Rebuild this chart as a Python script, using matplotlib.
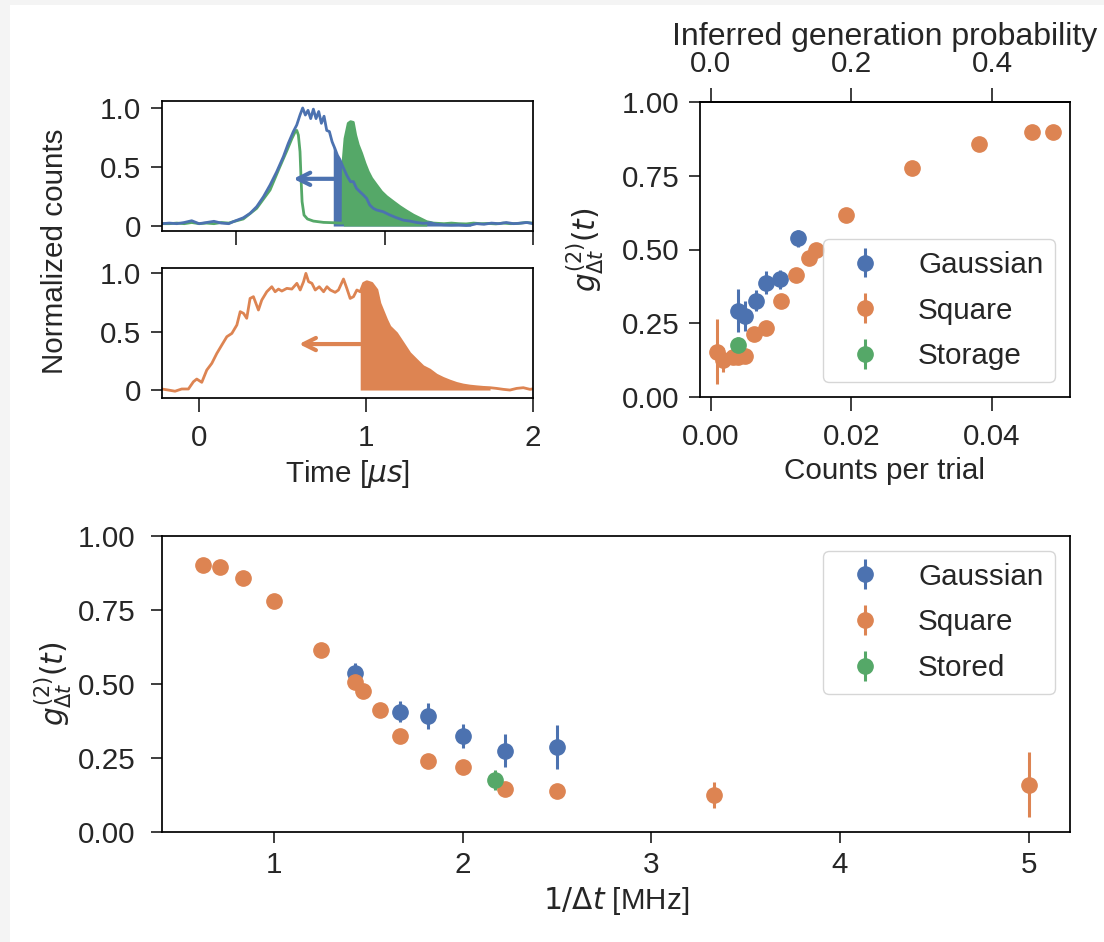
import numpy as np
import matplotlib.pyplot as plt
from matplotlib.patches import Rectangle

blue, orange, green = '#4C72B0', '#DD8452', '#55A868'

# --- pulse traces, top left ---
# upper panel: gaussian pulse (blue) and stored pulse (green)
t_gauss = [-0.5, -0.45, -0.4, -0.35, -0.3, -0.25, -0.2, -0.15, -0.1, -0.05, -0.02,
           0.048, 0.093, 0.138, 0.184, 0.228, 0.273, 0.318, 0.351, 0.385, 0.408,
           0.43, 0.448, 0.466, 0.484, 0.502, 0.52, 0.538, 0.556, 0.574, 0.592,
           0.61, 0.628, 0.646, 0.654, 0.664, 0.682, 0.7, 0.72, 0.745, 0.77, 0.79,
           0.81, 0.834, 0.857, 0.879, 0.9, 0.924, 0.946, 0.991, 1.036, 1.081,
           1.126, 1.171, 1.216, 1.261, 1.306, 1.35, 1.4, 1.45, 1.5, 1.55, 1.58,
           1.62, 1.67, 1.72, 1.77, 1.82, 1.87, 1.92, 1.96, 2.0]
n_gauss = [0.02, 0.025, 0.02, 0.03, 0.045, 0.02, 0.03, 0.04, 0.025, 0.02, 0.037,
           0.07, 0.107, 0.164, 0.249, 0.347, 0.46, 0.588, 0.7, 0.8, 0.856,
           0.94, 1.0, 0.94, 0.98, 0.91, 0.99, 0.91, 0.97, 0.87, 0.93,
           0.81, 0.8, 0.715, 0.69, 0.66, 0.6, 0.56, 0.5, 0.43, 0.376, 0.376,
           0.32, 0.29, 0.263, 0.234, 0.178, 0.15, 0.136, 0.121, 0.093, 0.07,
           0.05, 0.042, 0.03, 0.023, 0.028, 0.015, 0.01, 0.008, 0.01, 0.005, 0.008,
           0.02, 0.015, 0.025, 0.02, 0.03, 0.02, 0.025, 0.03, 0.02]
t_store = [-0.5, -0.45, -0.4, -0.35, -0.3, -0.25, -0.2, -0.15, -0.1, -0.05, -0.02,
           0.048, 0.138, 0.228, 0.29, 0.342, 0.375, 0.398, 0.408, 0.419, 0.43,
           0.437, 0.444, 0.457, 0.48, 0.52, 0.588, 0.655, 0.7, 0.72, 0.722,
           0.733, 0.755, 0.771, 0.789, 0.805, 0.823, 0.845, 0.868, 0.89, 0.913,
           0.946, 0.98, 1.014, 1.059, 1.104, 1.149, 1.194, 1.239, 1.284, 1.33,
           1.4, 1.45, 1.5, 1.55, 1.6, 1.65, 1.7, 1.75, 1.8, 1.85, 1.9, 1.95, 2.0]
n_store = [0.02, 0.02, 0.025, 0.02, 0.03, 0.02, 0.025, 0.02, 0.03, 0.025, 0.037,
           0.06, 0.15, 0.305, 0.49, 0.64, 0.74, 0.8, 0.81, 0.77, 0.63,
           0.4, 0.206, 0.093, 0.06, 0.042, 0.031, 0.028, 0.025, 0.025, 0.573,
           0.74, 0.87, 0.884, 0.878, 0.77, 0.686, 0.616, 0.53, 0.46, 0.404,
           0.347, 0.29, 0.249, 0.206, 0.164, 0.127, 0.093, 0.065, 0.037, 0.025,
           0.02, 0.025, 0.02, 0.018, 0.025, 0.02, 0.022, 0.018, 0.025, 0.02, 0.022, 0.03, 0.025]

# lower panel: square pulse (orange)
t_square = [-0.222, -0.182, -0.142, -0.102, -0.062, -0.032, -0.012, 0.018, 0.048,
            0.078, 0.108, 0.138, 0.168, 0.198, 0.228, 0.248, 0.268, 0.287, 0.307,
            0.327, 0.357, 0.377, 0.407, 0.437, 0.457, 0.477, 0.497, 0.527, 0.557,
            0.587, 0.607, 0.627, 0.641, 0.657, 0.677, 0.697, 0.721, 0.747, 0.767,
            0.787, 0.816, 0.836, 0.866, 0.886, 0.906, 0.926, 0.946, 0.966, 0.986,
            1.006, 1.036, 1.066, 1.084, 1.104, 1.124, 1.144, 1.184, 1.223, 1.263,
            1.303, 1.343, 1.383, 1.423, 1.463, 1.503, 1.543, 1.583, 1.623, 1.663,
            1.703, 1.743, 1.782, 1.822, 1.862, 1.902, 1.942, 1.982, 2.0]
n_square = [0.009, 0.0, -0.01, 0.009, 0.009, 0.071, 0.094, 0.066, 0.171,
            0.228, 0.313, 0.385, 0.456, 0.484, 0.556, 0.67, 0.655, 0.613, 0.783,
            0.798, 0.684, 0.769, 0.84, 0.883, 0.84, 0.863, 0.846, 0.869, 0.863,
            0.912, 0.855, 0.926, 0.997, 0.926, 0.912, 0.855, 0.883, 0.84, 0.883,
            0.855, 0.835, 0.855, 0.949, 0.869, 0.783, 0.798, 0.855, 0.84, 0.912,
            0.926, 0.912, 0.855, 0.74, 0.67, 0.6, 0.54, 0.484, 0.4, 0.313,
            0.256, 0.2, 0.171, 0.128, 0.1, 0.077, 0.057, 0.043, 0.034, 0.028,
            0.023, 0.02, 0.014, 0.006, 0.0, 0.014, 0.02, 0.006, 0.01]

# --- g2 vs counts per trial (top right) ---
gauss_counts = [0.0038, 0.0049, 0.0064, 0.0079, 0.0098, 0.0124]
gauss_g2 = [0.293, 0.275, 0.327, 0.388, 0.399, 0.538]
gauss_err = [0.073, 0.05, 0.037, 0.04, 0.032, 0.028]
sq_counts = [0.00085, 0.0017, 0.0032, 0.0039, 0.0048, 0.0061, 0.0079, 0.0100,
             0.0121, 0.0139, 0.0149, 0.0192, 0.0286, 0.0381, 0.0457, 0.0487]
sq_g2 = [0.154, 0.125, 0.137, 0.137, 0.14, 0.2125, 0.235, 0.327,
         0.414, 0.47, 0.498, 0.617, 0.775, 0.857, 0.897, 0.897]
sq_err = [0.11, 0.04, 0.02, 0.02, 0.015, 0.015, 0.015, 0.01,
          0.01, 0.01, 0.01, 0.01, 0.005, 0.005, 0.005, 0.005]
store_counts = [0.0039]
store_g2 = [0.176]
store_err = [0.028]

# --- g2 vs 1/dt (bottom) ---
gauss_rate = [1.429, 1.667, 1.818, 2.0, 2.222, 2.5]
gauss_g2_rate = [0.536, 0.406, 0.392, 0.325, 0.275, 0.288]
gauss_err_rate = [0.036, 0.035, 0.043, 0.04, 0.055, 0.075]
sq_rate = [0.625, 0.714, 0.833, 1.0, 1.25, 1.429, 1.471, 1.5625, 1.667, 1.818,
           2.0, 2.222, 2.5, 3.333, 5.0]
sq_g2_rate = [0.902, 0.894, 0.859, 0.780, 0.615, 0.506, 0.477, 0.412, 0.325,
              0.240, 0.218, 0.145, 0.1385, 0.125, 0.159]
sq_err_rate = [0.005, 0.005, 0.005, 0.005, 0.01, 0.01, 0.01, 0.01, 0.015,
               0.015, 0.015, 0.02, 0.02, 0.045, 0.11]
store_rate = [2.17]
store_g2_rate = [0.176]
store_err_rate = [0.034]

plt.rcParams.update({
    'font.family': ['Liberation Sans', 'DejaVu Sans'],
    'font.size': 21.3,
    'axes.linewidth': 1.25,
    'xtick.major.size': 8,
    'ytick.major.size': 8,
    'xtick.major.width': 1.25,
    'ytick.major.width': 1.25,
    'xtick.major.pad': 6,
    'ytick.major.pad': 7,
    'text.color': '#262626',
    'axes.labelcolor': '#262626',
    'xtick.color': '#262626',
    'ytick.color': '#262626',
    'legend.labelspacing': 0.6,
})

W, H = 1104, 942
fig = plt.figure(figsize=(W / 100, H / 100), dpi=100, facecolor='#f4f4f4')
fig.patches.append(Rectangle((10 / W, 0), 1, 1 - 5 / H, transform=fig.transFigure,
                             facecolor='white', edgecolor='none', zorder=-1))


def pix_axes(x0, y0, x1, y1):
    return fig.add_axes([x0 / W, 1 - y1 / H, (x1 - x0) / W, (y1 - y0) / H])


ax1 = pix_axes(162, 101, 533, 231)
ax2 = pix_axes(162, 268, 533, 398)
ax3 = pix_axes(700, 102, 1070, 397)
ax4 = pix_axes(162, 536, 1070, 832)

# upper trace panel
tg, ng = np.array(t_gauss), np.array(n_gauss)
ts, ns = np.array(t_store), np.array(n_store)
ax1.fill_between(tg, 0, ng, where=(tg >= 0.654) & (tg <= 1.58), color=blue, lw=0)
ax1.fill_between(ts, 0, ns, where=(ts >= 0.722) & (ts <= 1.284), color=green, lw=0)
ax1.plot(ts, ns, color=green, lw=2)
ax1.plot(tg, ng, color=blue, lw=2)
ax1.annotate('', xy=(0.385, 0.40), xytext=(0.659, 0.40),
             arrowprops=dict(arrowstyle='->', color=blue, lw=3, shrinkA=0, shrinkB=0,
                             mutation_scale=22))
ax1.set_xlim(-0.5, 2.0)
ax1.set_ylim(-0.042, 1.059)
ax1.set_xticks([0, 1, 2])
ax1.set_xticklabels([])
ax1.set_yticks([0, 0.5, 1.0])
ax1.set_yticklabels(['0', '0.5', '1.0'])

# lower trace panel
tq, nq = np.array(t_square), np.array(n_square)
ax2.fill_between(tq, 0, nq, where=(tq >= 0.966) & (tq <= 1.743), color=orange, lw=0)
ax2.plot(tq, nq, color=orange, lw=2)
ax2.annotate('', xy=(0.6, 0.393), xytext=(0.966, 0.393),
             arrowprops=dict(arrowstyle='->', color=orange, lw=3, shrinkA=0, shrinkB=0,
                             mutation_scale=22))
ax2.set_xlim(-0.22, 2.0)
ax2.set_ylim(-0.068, 1.043)
ax2.set_xticks([0, 1, 2])
ax2.set_xticklabels(['0', '1', '2'])
ax2.set_yticks([0, 0.5, 1.0])
ax2.set_yticklabels(['0', '0.5', '1.0'])
ax2.set_xlabel(r'Time [$\mu s$]')
fig.text(55 / W, 1 - 251 / H, 'Normalized counts', rotation=90, ha='center', va='center')

ms, elw = 11, 2.2
# g2 vs counts per trial
ax3.errorbar(gauss_counts, gauss_g2, yerr=gauss_err, fmt='o', color=blue, ms=ms,
             elinewidth=elw, label='Gaussian')
ax3.errorbar(sq_counts, sq_g2, yerr=sq_err, fmt='o', color=orange, ms=ms,
             elinewidth=elw, label='Square')
ax3.errorbar(store_counts, store_g2, yerr=store_err, fmt='o', color=green, ms=ms,
             elinewidth=elw, label='Storage')
ax3.set_ylim(0, 1)
ax3.set_yticks([0, 0.25, 0.5, 0.75, 1.0])
ax3.set_xticks([0, 0.02, 0.04])
ax3.set_xlabel('Counts per trial')
ax3.set_ylabel(r'$g^{(2)}_{\Delta t}(t)$', labelpad=11)
ax3.legend(loc='lower right')
sec = ax3.secondary_xaxis('top', functions=(lambda x: x * 10, lambda x: x / 10))
sec.set_xticks([0, 0.2, 0.4])
sec.set_xlabel('Inferred generation probability', fontsize=23)

# top row: longer x ticks than the bottom panel
for a in (ax1, ax2, ax3):
    a.tick_params(axis='x', length=10, pad=9)
sec.tick_params(axis='x', length=10, pad=7)

# g2 vs 1/dt
ax4.errorbar(gauss_rate, gauss_g2_rate, yerr=gauss_err_rate, fmt='o', color=blue,
             ms=ms, elinewidth=elw, label='Gaussian')
ax4.errorbar(sq_rate, sq_g2_rate, yerr=sq_err_rate, fmt='o', color=orange,
             ms=ms, elinewidth=elw, label='Square')
ax4.errorbar(store_rate, store_g2_rate, yerr=store_err_rate, fmt='o', color=green,
             ms=ms, elinewidth=elw, label='Stored')
ax4.set_ylim(0, 1)
ax4.set_yticks([0, 0.25, 0.5, 0.75, 1.0])
ax4.tick_params(axis='y', pad=11)
ax4.set_xlabel(r'$1/\Delta t$ [MHz]')
ax4.set_ylabel(r'$g^{(2)}_{\Delta t}(t)$', labelpad=3)
ax4.legend(loc='upper right')

fig.savefig('out.png', dpi=100, facecolor=fig.get_facecolor())
